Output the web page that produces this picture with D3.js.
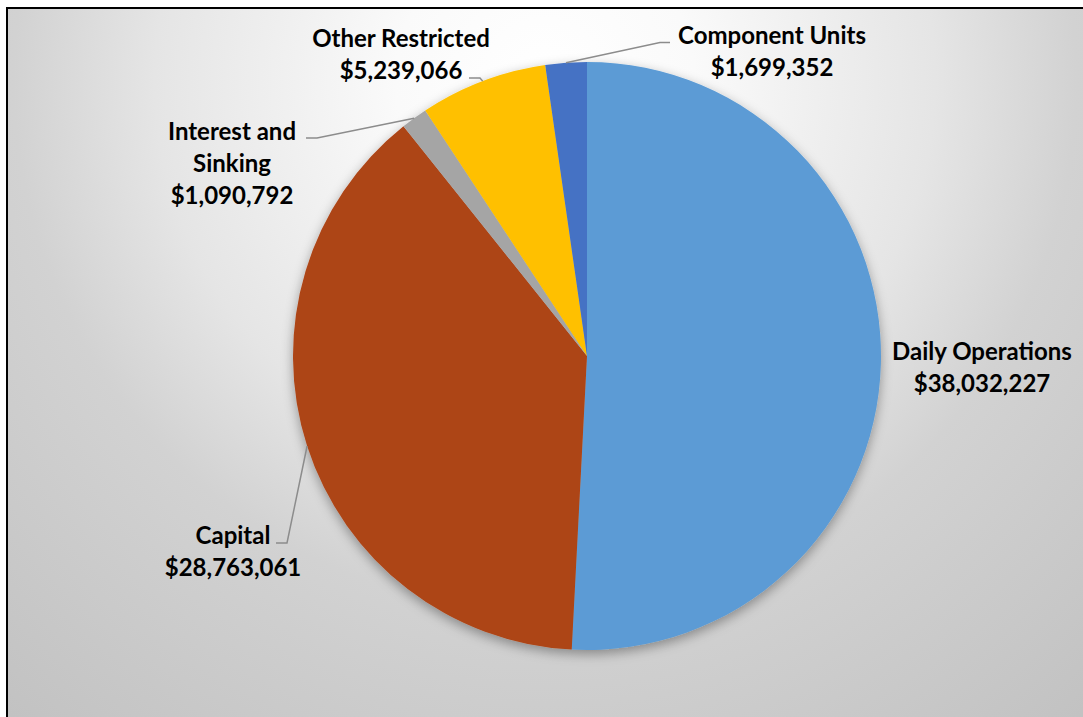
<!DOCTYPE html>
<html>
<head>
<meta charset="utf-8">
<script src="https://cdn.jsdelivr.net/npm/d3@7"></script>
<style>
  html, body { margin: 0; padding: 0; background: #ffffff; overflow: hidden; }
  svg { display: block; }
  text { font-family: Lato, "Open Sans", sans-serif; font-weight: 700; fill: #000; }
</style>
</head>
<body>
<svg id="chart" width="1083" height="717"></svg>
<script>
// Fund balances by category
const categories = ["Daily Operations", "Capital", "Interest and Sinking", "Other Restricted", "Component Units"];
const amounts = [38032227, 28763061, 1090792, 5239066, 1699352];
const sliceColors = ["#5B9BD5", "#AD4415", "#A5A5A5", "#FFC000", "#4472C4"];
// label text lines per slice (name split where it wraps)
const labelLines = [["Daily Operations"], ["Capital"], ["Interest and", "Sinking"], ["Other Restricted"], ["Component Units"]];

const W = 1083, H = 717;
const cx = 587, cy = 356, R = 294;
const lineGap = 32;

// label layout: centre x, first-line y, and leader elbow (relative to pie centre)
const labelLayout = [
  { x: 395, y: -5, leader: false },
  { x: -354, y: 179, elbow: [-300, 187], end: [-311, 187] },
  { x: -355, y: -225, elbow: [-270, -218], end: [-281, -218] },
  { x: -186, y: -318, elbow: [-107, -278], end: [-118, -278] },
  { x: 185, y: -321, elbow: [73, -313.5], end: [83, -313.5] }
];

const svg = d3.select("#chart");
const defs = svg.append("defs");

// background fill
const bg = defs.append("radialGradient")
  .attr("id", "bgGrad")
  .attr("gradientUnits", "userSpaceOnUse")
  .attr("cx", 545).attr("cy", 80).attr("r", 830);
[[0, "#ffffff"], [0.18, "#fafafa"], [0.3, "#f1f1f1"], [0.47, "#e5e5e5"], [0.64, "#d2d2d2"], [1, "#c2c2c2"]]
  .forEach(([o, c]) => bg.append("stop").attr("offset", o).attr("stop-color", c));

const shadow = defs.append("filter").attr("id", "pieShadow")
  .attr("x", "-20%").attr("y", "-20%").attr("width", "140%").attr("height", "140%");
shadow.append("feDropShadow")
  .attr("dx", 0).attr("dy", 4).attr("stdDeviation", 6)
  .attr("flood-color", "#000").attr("flood-opacity", 0.35);

// chart area with frame
svg.append("rect")
  .attr("x", 7).attr("y", 8).attr("width", W + 20).attr("height", H + 20)
  .attr("fill", "url(#bgGrad)")
  .attr("stroke", "#000").attr("stroke-width", 2);

const data = categories.map((c, i) => ({ name: c, value: amounts[i], color: sliceColors[i], lines: labelLines[i], layout: labelLayout[i] }));

const pie = d3.pie().sort(null).value(d => d.value);
const arcs = pie(data);
const arc = d3.arc().innerRadius(0).outerRadius(R);

const g = svg.append("g").attr("transform", `translate(${cx},${cy})`);

g.append("g").attr("filter", "url(#pieShadow)")
  .selectAll("path")
  .data(arcs)
  .join("path")
  .attr("d", arc)
  .attr("fill", d => d.data.color);

const fmt = d3.format("$,");

// leader lines from the slice rim
const rimPoint = d => {
  const a = (d.startAngle + d.endAngle) / 2;
  return [R * Math.sin(a), -R * Math.cos(a)];
};
g.selectAll("path.leader")
  .data(arcs.filter(d => d.data.layout.leader !== false))
  .join("path")
  .attr("class", "leader")
  .attr("fill", "none")
  .attr("stroke", "#8c8c8c")
  .attr("stroke-width", 1.5)
  .attr("d", d => d3.line()([rimPoint(d), d.data.layout.elbow, d.data.layout.end]));

// data labels
const labels = g.selectAll("text.lbl")
  .data(arcs)
  .join("text")
  .attr("class", "lbl")
  .attr("text-anchor", "middle")
  .style("font-size", "24px");

labels.each(function (d) {
  const t = d3.select(this);
  const L = d.data.layout;
  const lines = d.data.lines.concat([fmt(d.data.value)]);
  lines.forEach((s, i) => {
    t.append("tspan")
      .attr("x", L.x)
      .attr("y", L.y + i * lineGap)
      .attr("dy", "0.36em")
      .text(s);
  });
});
</script>
</body>
</html>
